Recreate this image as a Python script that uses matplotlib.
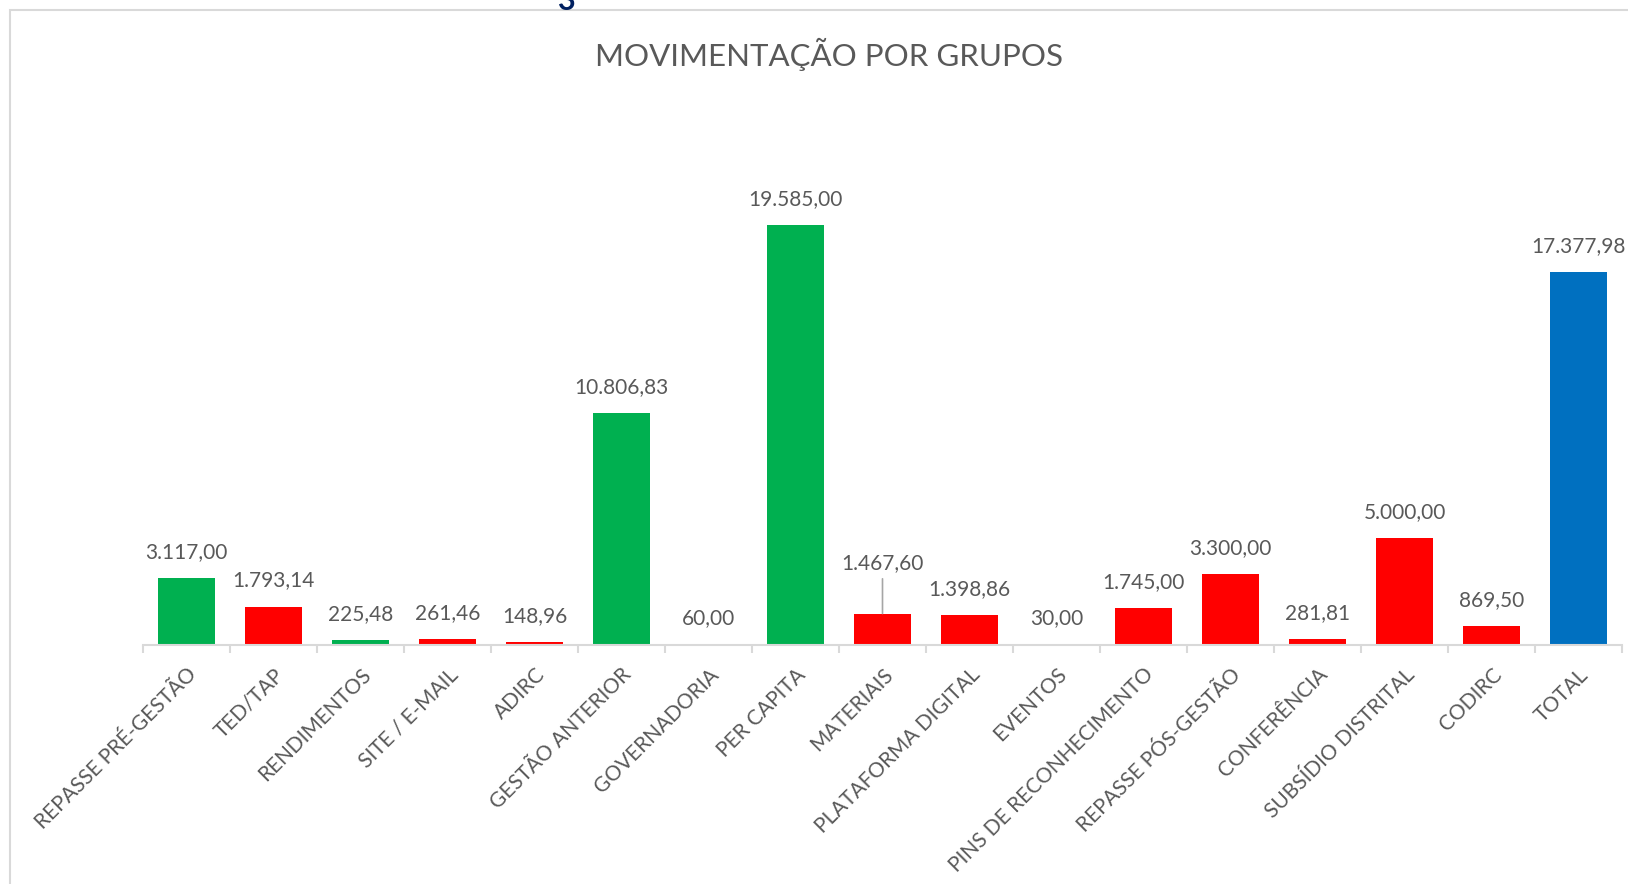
import numpy as np
import matplotlib
matplotlib.use("Agg")
import matplotlib.pyplot as plt
from matplotlib.patches import Rectangle

plt.rcParams["font.family"] = ["Lato", "DejaVu Sans"]

# --- data --------------------------------------------------------------------
categories = ["REPASSE PRÉ-GESTÃO", "TED/TAP", "RENDIMENTOS", "SITE / E-MAIL", "ADIRC",
              "GESTÃO ANTERIOR", "GOVERNADORIA", "PER CAPITA", "MATERIAIS",
              "PLATAFORMA DIGITAL", "EVENTOS", "PINS DE RECONHECIMENTO",
              "REPASSE PÓS-GESTÃO", "CONFERÊNCIA", "SUBSÍDIO DISTRITAL", "CODIRC", "TOTAL"]
values = [3117.00, 1793.14, 225.48, 261.46, 148.96, 10806.83, 60.00, 19585.00, 1467.60,
          1398.86, 30.00, 1745.00, 3300.00, 281.81, 5000.00, 869.50, 17377.98]
kinds = ["in", "out", "in", "out", "out", "in", "out", "in", "out",
         "out", "out", "out", "out", "out", "out", "out", "total"]

GREEN, RED, BLUE = "#00B050", "#FF0000", "#0070C0"
TXT = "#595959"
LINE = "#D9D9D9"
kind_color = {"in": GREEN, "out": RED, "total": BLUE}


def br(v):
    # brazilian number format 12.345,67
    s = f"{v:,.2f}"
    return s.replace(",", "X").replace(".", ",").replace("X", ".")


W, H = 1628, 884
fig = plt.figure(figsize=(W / 100, H / 100), dpi=100)
fig.patch.set_facecolor("white")

# chart frame (only left/top edges visible in the crop)
fig.add_artist(Rectangle((10 / W, -0.1), 1.2, 1 - 10 / H + 0.1, transform=fig.transFigure,
                         fill=False, edgecolor=LINE, lw=1.5))
# bit of a glyph peeking in from above the frame
fig.text(566 / W, 1 - 1 / H, "3", color="#002060", fontsize=22, fontweight="bold",
         ha="center", va="center")

base, top = 645, 109
ax = fig.add_axes([143 / W, (H - base) / H, (1622 - 143) / W, (base - top) / H])
x = np.arange(len(categories))
ax.bar(x, values, width=0.66, color=[kind_color[k] for k in kinds], zorder=2)
ax.set_xlim(-0.5, len(categories) - 0.5)
ax.set_ylim(0, 25000)

for s in ["top", "right", "left"]:
    ax.spines[s].set_visible(False)
ax.spines["bottom"].set_color(LINE)
ax.spines["bottom"].set_linewidth(1.5)
ax.set_yticks([])
ax.set_xticks(x)
ax.set_xticklabels(categories, rotation=45, ha="right", rotation_mode="anchor",
                   fontsize=15, color=TXT)
ax.tick_params(axis="x", which="major", length=0, pad=14)
ax.set_xticks(np.arange(-0.5, len(categories)), minor=True)
ax.tick_params(axis="x", which="minor", length=6, width=1.5, color=LINE)
ax.patch.set_alpha(0)

# data labels
for i, v in enumerate(values):
    off = 18.7
    if categories[i] == "MATERIAIS":
        off = 36
        ax.annotate("", xy=(i, v), xytext=(0, 25), textcoords="offset points",
                    arrowprops=dict(arrowstyle="-", color="#A6A6A6", lw=1.2,
                                    shrinkA=0, shrinkB=0))
    ax.annotate(br(v), xy=(i, v), xytext=(0, off), textcoords="offset points",
                ha="center", va="center", fontsize=15, color=TXT)

fig.text(829 / W, 1 - 54 / H, "MOVIMENTAÇÃO POR GRUPOS", ha="center", va="center",
         fontsize=22.5, color=TXT)

fig.savefig("out.png", dpi=100)
